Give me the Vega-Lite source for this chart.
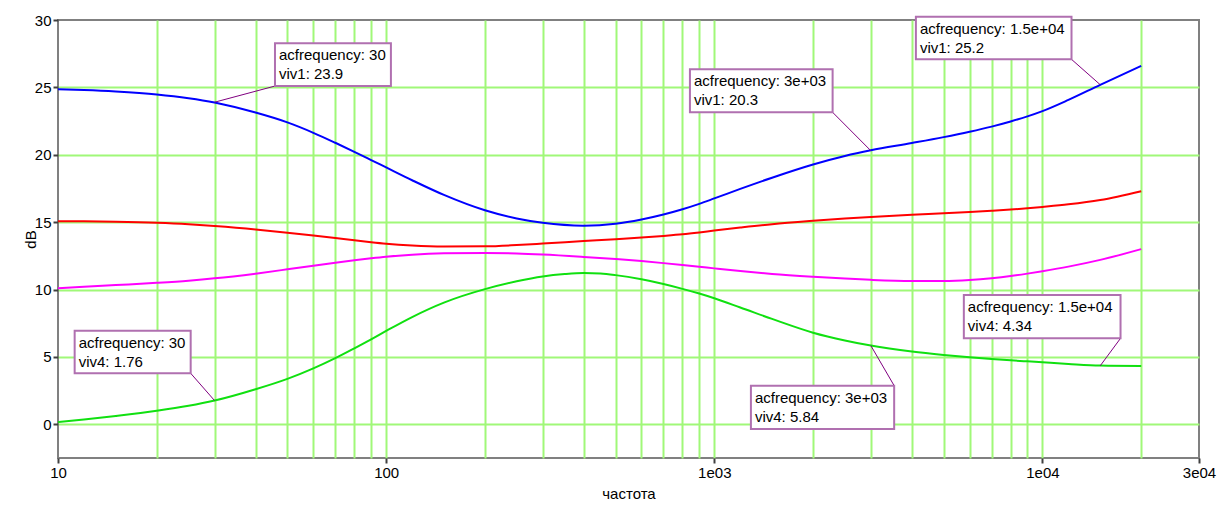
{
  "$schema": "https://vega.github.io/schema/vega-lite/v6.json",
  "width": 1141,
  "height": 438,
  "autosize": {"type": "none"},
  "padding": {"left": 58, "top": 20, "right": 23, "bottom": 47},
  "background": "white",
  "config": {
    "font": "Liberation Sans",
    "view": {"stroke": "#808080", "strokeWidth": 2},
    "axis": {
      "labelFont": "Liberation Sans",
      "labelFontSize": 15,
      "labelColor": "#000000",
      "titleFont": "Liberation Sans",
      "titleFontSize": 15,
      "titleFontWeight": "normal",
      "titleColor": "#000000",
      "gridColor": "#a0f878",
      "gridWidth": 2,
      "tickColor": "#404040",
      "tickWidth": 2,
      "tickSize": 5,
      "labelPadding": 2,
      "domain": false
    }
  },
  "datasets": {
    "curves": [
      {"f":10,"v":24.87,"s":"viv1"},{"f":12,"v":24.81,"s":"viv1"},{"f":15,"v":24.7,"s":"viv1"},{"f":20,"v":24.48,"s":"viv1"},{"f":25,"v":24.2,"s":"viv1"},{"f":30,"v":23.88,"s":"viv1"},{"f":40,"v":23.13,"s":"viv1"},{"f":50,"v":22.4,"s":"viv1"},{"f":60,"v":21.63,"s":"viv1"},{"f":70,"v":20.89,"s":"viv1"},{"f":80,"v":20.22,"s":"viv1"},{"f":90,"v":19.61,"s":"viv1"},{"f":100,"v":19.06,"s":"viv1"},{"f":120,"v":18.11,"s":"viv1"},{"f":150,"v":17.02,"s":"viv1"},{"f":200,"v":15.88,"s":"viv1"},{"f":250,"v":15.27,"s":"viv1"},{"f":300,"v":14.95,"s":"viv1"},{"f":400,"v":14.74,"s":"viv1"},{"f":500,"v":14.88,"s":"viv1"},{"f":600,"v":15.2,"s":"viv1"},{"f":700,"v":15.57,"s":"viv1"},{"f":800,"v":15.96,"s":"viv1"},{"f":900,"v":16.36,"s":"viv1"},{"f":1000,"v":16.76,"s":"viv1"},{"f":1200,"v":17.47,"s":"viv1"},{"f":1500,"v":18.3,"s":"viv1"},{"f":2000,"v":19.28,"s":"viv1"},{"f":2500,"v":19.91,"s":"viv1"},{"f":3000,"v":20.33,"s":"viv1"},{"f":4000,"v":20.87,"s":"viv1"},{"f":5000,"v":21.31,"s":"viv1"},{"f":6000,"v":21.71,"s":"viv1"},{"f":7000,"v":22.09,"s":"viv1"},{"f":8000,"v":22.47,"s":"viv1"},{"f":9000,"v":22.85,"s":"viv1"},{"f":10000,"v":23.24,"s":"viv1"},{"f":12000,"v":24.07,"s":"viv1"},{"f":15000,"v":25.19,"s":"viv1"},{"f":20000,"v":26.59,"s":"viv1"},
      {"f":10,"v":15.07,"s":"viv2"},{"f":12,"v":15.06,"s":"viv2"},{"f":15,"v":15.03,"s":"viv2"},{"f":20,"v":14.95,"s":"viv2"},{"f":25,"v":14.84,"s":"viv2"},{"f":30,"v":14.71,"s":"viv2"},{"f":40,"v":14.46,"s":"viv2"},{"f":50,"v":14.22,"s":"viv2"},{"f":60,"v":14.01,"s":"viv2"},{"f":70,"v":13.82,"s":"viv2"},{"f":80,"v":13.65,"s":"viv2"},{"f":90,"v":13.51,"s":"viv2"},{"f":100,"v":13.4,"s":"viv2"},{"f":120,"v":13.27,"s":"viv2"},{"f":150,"v":13.2,"s":"viv2"},{"f":200,"v":13.21,"s":"viv2"},{"f":250,"v":13.3,"s":"viv2"},{"f":300,"v":13.41,"s":"viv2"},{"f":400,"v":13.6,"s":"viv2"},{"f":500,"v":13.74,"s":"viv2"},{"f":600,"v":13.86,"s":"viv2"},{"f":700,"v":13.98,"s":"viv2"},{"f":800,"v":14.1,"s":"viv2"},{"f":900,"v":14.24,"s":"viv2"},{"f":1000,"v":14.38,"s":"viv2"},{"f":1200,"v":14.6,"s":"viv2"},{"f":1500,"v":14.85,"s":"viv2"},{"f":2000,"v":15.1,"s":"viv2"},{"f":2500,"v":15.27,"s":"viv2"},{"f":3000,"v":15.39,"s":"viv2"},{"f":4000,"v":15.55,"s":"viv2"},{"f":5000,"v":15.66,"s":"viv2"},{"f":6000,"v":15.75,"s":"viv2"},{"f":7000,"v":15.84,"s":"viv2"},{"f":8000,"v":15.93,"s":"viv2"},{"f":9000,"v":16.03,"s":"viv2"},{"f":10000,"v":16.13,"s":"viv2"},{"f":12000,"v":16.32,"s":"viv2"},{"f":15000,"v":16.64,"s":"viv2"},{"f":20000,"v":17.3,"s":"viv2"},
      {"f":10,"v":10.09,"s":"viv3"},{"f":12,"v":10.2,"s":"viv3"},{"f":15,"v":10.33,"s":"viv3"},{"f":20,"v":10.5,"s":"viv3"},{"f":25,"v":10.66,"s":"viv3"},{"f":30,"v":10.83,"s":"viv3"},{"f":40,"v":11.18,"s":"viv3"},{"f":50,"v":11.5,"s":"viv3"},{"f":60,"v":11.77,"s":"viv3"},{"f":70,"v":11.99,"s":"viv3"},{"f":80,"v":12.17,"s":"viv3"},{"f":90,"v":12.32,"s":"viv3"},{"f":100,"v":12.44,"s":"viv3"},{"f":120,"v":12.59,"s":"viv3"},{"f":150,"v":12.69,"s":"viv3"},{"f":200,"v":12.72,"s":"viv3"},{"f":250,"v":12.68,"s":"viv3"},{"f":300,"v":12.6,"s":"viv3"},{"f":400,"v":12.42,"s":"viv3"},{"f":500,"v":12.26,"s":"viv3"},{"f":600,"v":12.11,"s":"viv3"},{"f":700,"v":11.96,"s":"viv3"},{"f":800,"v":11.82,"s":"viv3"},{"f":900,"v":11.69,"s":"viv3"},{"f":1000,"v":11.57,"s":"viv3"},{"f":1200,"v":11.37,"s":"viv3"},{"f":1500,"v":11.16,"s":"viv3"},{"f":2000,"v":10.95,"s":"viv3"},{"f":2500,"v":10.81,"s":"viv3"},{"f":3000,"v":10.72,"s":"viv3"},{"f":4000,"v":10.64,"s":"viv3"},{"f":5000,"v":10.64,"s":"viv3"},{"f":6000,"v":10.71,"s":"viv3"},{"f":7000,"v":10.84,"s":"viv3"},{"f":8000,"v":11.0,"s":"viv3"},{"f":9000,"v":11.18,"s":"viv3"},{"f":10000,"v":11.36,"s":"viv3"},{"f":12000,"v":11.7,"s":"viv3"},{"f":15000,"v":12.2,"s":"viv3"},{"f":20000,"v":13.0,"s":"viv3"},
      {"f":10,"v":0.16,"s":"viv4"},{"f":12,"v":0.36,"s":"viv4"},{"f":15,"v":0.62,"s":"viv4"},{"f":20,"v":1.0,"s":"viv4"},{"f":25,"v":1.37,"s":"viv4"},{"f":30,"v":1.76,"s":"viv4"},{"f":40,"v":2.6,"s":"viv4"},{"f":50,"v":3.37,"s":"viv4"},{"f":60,"v":4.15,"s":"viv4"},{"f":70,"v":4.91,"s":"viv4"},{"f":80,"v":5.64,"s":"viv4"},{"f":90,"v":6.31,"s":"viv4"},{"f":100,"v":6.93,"s":"viv4"},{"f":120,"v":7.96,"s":"viv4"},{"f":150,"v":9.03,"s":"viv4"},{"f":200,"v":10.03,"s":"viv4"},{"f":250,"v":10.61,"s":"viv4"},{"f":300,"v":10.97,"s":"viv4"},{"f":350,"v":11.15,"s":"viv4"},{"f":400,"v":11.23,"s":"viv4"},{"f":450,"v":11.19,"s":"viv4"},{"f":500,"v":11.07,"s":"viv4"},{"f":600,"v":10.76,"s":"viv4"},{"f":700,"v":10.41,"s":"viv4"},{"f":800,"v":10.05,"s":"viv4"},{"f":900,"v":9.7,"s":"viv4"},{"f":1000,"v":9.35,"s":"viv4"},{"f":1200,"v":8.67,"s":"viv4"},{"f":1500,"v":7.82,"s":"viv4"},{"f":2000,"v":6.8,"s":"viv4"},{"f":2500,"v":6.22,"s":"viv4"},{"f":3000,"v":5.84,"s":"viv4"},{"f":4000,"v":5.4,"s":"viv4"},{"f":5000,"v":5.15,"s":"viv4"},{"f":6000,"v":4.98,"s":"viv4"},{"f":7000,"v":4.85,"s":"viv4"},{"f":8000,"v":4.75,"s":"viv4"},{"f":9000,"v":4.67,"s":"viv4"},{"f":10000,"v":4.6,"s":"viv4"},{"f":12000,"v":4.48,"s":"viv4"},{"f":15000,"v":4.36,"s":"viv4"},{"f":20000,"v":4.33,"s":"viv4"}
    ],
    "notes": [
      {"f":30,"v":23.9,"bx1":45.84,"bx2":103.4,"by1":25.10,"by2":28.27,"lx":45.84,"ly":25.10,"label":["acfrequency: 30","viv1: 23.9"]},
      {"f":3000,"v":20.3,"bx1":842.9,"bx2":2294,"by1":23.15,"by2":26.34,"lx":2294,"ly":23.15,"label":["acfrequency: 3e+03","viv1: 20.3"]},
      {"f":15000,"v":25.2,"bx1":4115,"bx2":12263,"by1":27.08,"by2":30.245,"lx":12263,"ly":27.08,"label":["acfrequency: 1.5e+04","viv1: 25.2"]},
      {"f":30,"v":1.76,"bx1":11.24,"bx2":25.37,"by1":3.785,"by2":6.946,"lx":25.37,"ly":3.785,"label":["acfrequency: 30","viv4: 1.76"]},
      {"f":3000,"v":5.84,"bx1":1293,"bx2":3533,"by1":-0.348,"by2":2.865,"lx":3533,"ly":2.865,"label":["acfrequency: 3e+03","viv4: 5.84"]},
      {"f":15000,"v":4.34,"bx1":5761,"bx2":17298,"by1":6.382,"by2":9.595,"lx":17298,"ly":6.382,"label":["acfrequency: 1.5e+04","viv4: 4.34"]}
    ]
  },
  "layer": [
    {
      "data": {"name": "curves"},
      "mark": {"type": "line", "interpolate": "monotone", "strokeWidth": 2},
      "encoding": {
        "x": {
          "field": "f", "type": "quantitative",
          "scale": {"type": "log", "domain": [10, 30000], "nice": false},
          "axis": {
            "title": "частота",
            "values": [10,20,30,40,50,60,70,80,90,100,200,300,400,500,600,700,800,900,1000,2000,3000,4000,5000,6000,7000,8000,9000,10000,20000,30000],
            "labelExpr": "datum.value == 10 ? '10' : datum.value == 100 ? '100' : datum.value == 1000 ? '1e03' : datum.value == 10000 ? '1e04' : datum.value == 30000 ? '3e04' : ''",
            "labelOverlap": false,
            "labelFlush": false,
            "labelBound": false,
            "tickOpacity": {"condition": {"test": "indexof([10,100,1000,10000,30000], datum.value) >= 0", "value": 1}, "value": 0},
            "gridOpacity": {"condition": {"test": "datum.value == 10 || datum.value == 30000", "value": 0}, "value": 1},
            "titleX": 570.5,
            "titleY": 40,
            "titleAlign": "center",
            "titleBaseline": "alphabetic"
          }
        },
        "y": {
          "field": "v", "type": "quantitative",
          "scale": {"domain": [-2.5, 30], "nice": false, "zero": false},
          "axis": {
            "title": "dB",
            "values": [0,5,10,15,20,25,30],
            "gridOpacity": {"condition": {"test": "datum.value == 30", "value": 0}, "value": 1},
            "titleX": -28,
            "titleY": 219,
            "titleAngle": -90,
            "titleAlign": "center",
            "titleBaseline": "middle"
          }
        },
        "color": {
          "field": "s", "type": "nominal",
          "scale": {"domain": ["viv1","viv2","viv3","viv4"], "range": ["#0000ff","#ff0000","#ff00ff","#10e010"]},
          "legend": null
        }
      }
    },
    {
      "data": {"name": "notes"},
      "mark": {"type": "rule", "color": "#800080", "strokeWidth": 1},
      "encoding": {
        "x": {"field": "f", "type": "quantitative"},
        "y": {"field": "v", "type": "quantitative"},
        "x2": {"field": "lx"},
        "y2": {"field": "ly"}
      }
    },
    {
      "data": {"name": "notes"},
      "mark": {"type": "rect", "fill": "white", "stroke": "#b070b0", "strokeWidth": 2},
      "encoding": {
        "x": {"field": "bx1", "type": "quantitative"},
        "x2": {"field": "bx2"},
        "y": {"field": "by1", "type": "quantitative"},
        "y2": {"field": "by2"}
      }
    },
    {
      "data": {"name": "notes"},
      "mark": {"type": "text", "align": "left", "baseline": "alphabetic", "dx": 4, "dy": 17, "lineHeight": 19, "fontSize": 15, "font": "Liberation Sans", "color": "#000000"},
      "encoding": {
        "x": {"field": "bx1", "type": "quantitative"},
        "y": {"field": "by2", "type": "quantitative"},
        "text": {"field": "label"}
      }
    }
  ]
}
